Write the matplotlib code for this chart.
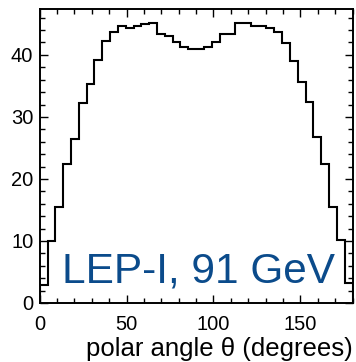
import numpy as np
import matplotlib
matplotlib.use("Agg")
import matplotlib.pyplot as plt
from matplotlib.ticker import MultipleLocator

plt.rcParams['font.family'] = ['Liberation Sans', 'DejaVu Sans']

# 40 bins, 4.5 degrees wide, 0..180
bin_edges = np.linspace(0, 180, 41)
counts = [2.9, 10.0, 15.5, 22.4, 26.5, 32.3, 35.3, 39.2, 42.2, 43.7,
          44.6, 44.4, 44.7, 45.0, 45.1, 43.4, 43.0, 42.0, 41.2, 41.0,
          41.0, 41.2, 42.0, 43.3, 43.3, 45.1, 45.1, 44.6, 44.7, 44.3,
          43.7, 41.9, 39.0, 35.7, 32.4, 26.7, 22.4, 15.4, 10.2, 3.2]
xticks = [0, 50, 100, 150]
yticks = [0, 10, 20, 30, 40]
xlabel = "polar angle θ (degrees)"
label_text = "LEP-I, 91 GeV"

fig = plt.figure(figsize=(3.56, 3.62), dpi=100)
ax = fig.add_axes([39.7/356, 1-303/362, (352.5-39.7)/356, (303-9)/362])

ax.stairs(counts, bin_edges, color='black', linewidth=1.5, baseline=0)

ax.set_xlim(0, 180)
ax.set_ylim(0, 47.4)
ax.set_xticks(xticks)
ax.set_yticks(yticks)
ax.xaxis.set_minor_locator(MultipleLocator(10))
ax.yaxis.set_minor_locator(MultipleLocator(2))
ax.tick_params(which='both', direction='in', top=True, right=True, width=1.0)
ax.tick_params(which='major', length=6)
ax.tick_params(which='minor', length=3.3)
ax.tick_params(axis='y', pad=4.6, labelsize=14.5)
ax.tick_params(axis='x', pad=9.0, labelsize=14.5)
for s in ax.spines.values():
    s.set_linewidth(1.4)

ax.set_xlabel(xlabel, fontsize=18.5, loc='right', labelpad=2.0)

ax.text(0.944, 0.0714, label_text, transform=ax.transAxes, ha='right',
        va='baseline', fontsize=30.5, color='#0b4b8b')

fig.savefig('out.png', dpi=100)
